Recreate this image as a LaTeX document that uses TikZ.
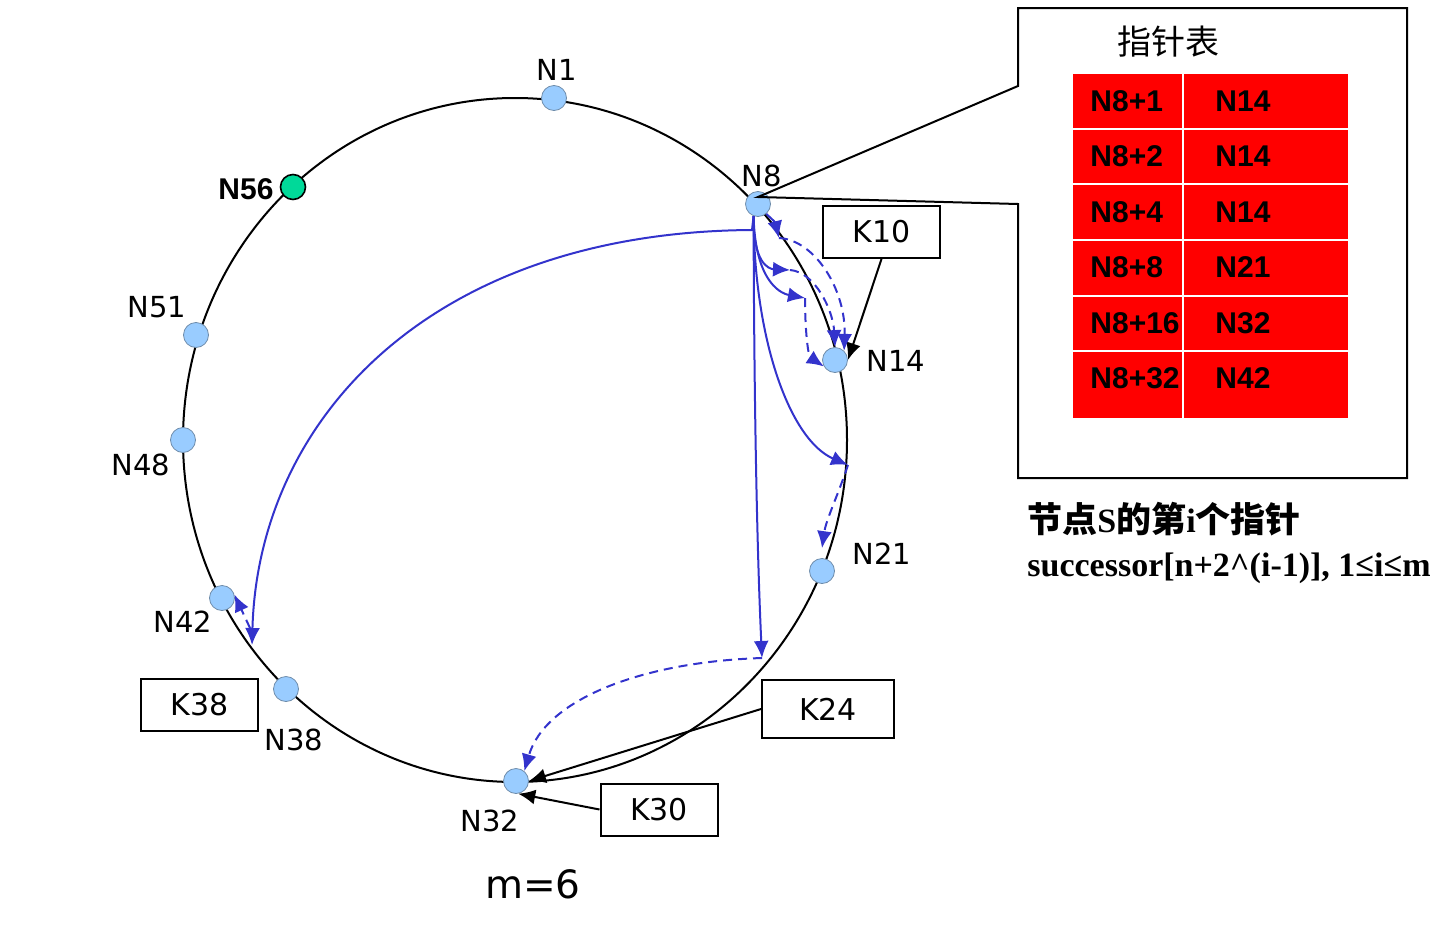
\documentclass[tikz,border=0pt]{standalone}
\usepackage{fontspec}
\setmainfont{DejaVu Sans}
\newfontfamily\tabfont{Liberation Sans}
\newfontfamily\rulefont{Liberation Serif}
\newfontfamily\cjkfont{Noto Sans CJK SC}
\usetikzlibrary{arrows.meta}

\definecolor{ptrblue}{RGB}{51,51,204}
\definecolor{nodeblue}{RGB}{153,204,255}
\definecolor{nodeedge}{RGB}{110,140,170}
\definecolor{startgreen}{RGB}{0,217,153}

\newcommand{\rl}[1]{{\rulefont\bfseries\fontsize{17}{20}\selectfont #1}}

\begin{document}
\begin{tikzpicture}[x=0.5pt,y=-0.5pt,
    peer/.style={circle,draw=nodeedge,fill=nodeblue,line width=0.4pt,minimum size=12.5pt,inner sep=0pt},
    lbl/.style={font=\fontsize{14.5}{17}\selectfont,inner sep=0pt},
    kbox/.style={draw,line width=1pt,minimum width=58.5pt,minimum height=26pt,inner sep=0pt,font=\fontsize{15}{18}\selectfont},
    ptr/.style={ptrblue,line width=1pt,-{Latex[length=8.5pt,width=7.5pt]}},
    hop/.style={ptr,dash pattern=on 4.5pt off 3pt},
    key/.style={line width=1pt,-{Latex[length=8.5pt,width=7.5pt]}},
    cell/.style={font=\tabfont\bfseries\fontsize{15}{18}\selectfont,inner sep=0pt,anchor=west}]
  \useasboundingbox (0,0) rectangle (1446,926);

  % the ring
  \draw[line width=1pt] (515,440) ellipse [x radius=166pt, y radius=171pt];

  % peers on the ring
  \node[peer] (N1) at (554,98) {};
  \node[peer] (N8) at (758,204) {};
  \node[peer] (N14) at (835,360) {};
  \node[peer] (N21) at (822,571) {};
  \node[peer] (N32) at (516,781) {};
  \node[peer] (N38) at (286,689) {};
  \node[peer] (N42) at (222,598) {};
  \node[peer] (N48) at (183,440) {};
  \node[peer] (N51) at (196,335) {};
  \node[peer,draw=black,fill=startgreen,line width=0.8pt] (N56) at (293,187) {};

  \node[lbl] (lN1) at (557,70) {N1};
  \node[lbl] (lN8) at (762,176) {N8};
  \node[lbl] (lN14) at (896,361) {N14};
  \node[lbl] (lN21) at (882,554) {N21};
  \node[lbl] (lN32) at (490,821) {N32};
  \node[lbl] (lN38) at (294,740) {N38};
  \node[lbl] (lN42) at (183,622) {N42};
  \node[lbl] (lN48) at (141,465) {N48};
  \node[lbl] (lN51) at (157,307) {N51};
  \node[lbl,font=\tabfont\bfseries\fontsize{15}{18}\selectfont] (lN56) at (246,189) {N56};

  % keys
  \node[kbox] (K10) at (881.5,232) {K10};
  \node[kbox,minimum width=66pt,minimum height=29pt] (K24) at (828,709) {K24};
  \node[kbox] (K30) at (659,809.5) {K30};
  \node[kbox] (K38) at (199.5,705) {K38};

  \draw[key] (K10.south) -- (N14.east);
  \draw[key] (K24.west) -- (N32.east);
  \draw[key] (K30.west) -- (N32.-80);

  % fingers of N8
  \coordinate (stem) at (752,230);
  \coordinate (f1) at (779,238);
  \coordinate (f2) at (790,270);
  \coordinate (f4) at (805,298);
  \coordinate (f8) at (848,465);
  \coordinate (f16) at (762,658);
  \coordinate (f32) at (252,645);
  \coordinate (r32) at (250,628);

  \draw[ptr] (N8.-50) .. controls (775,222) .. (f1);
  \draw[ptr] (N8.-110) .. controls (753,262) and (768,269) .. (f2);
  \draw[ptr] (N8.-110) .. controls (755,278) and (778,293) .. (f4);
  \draw[ptr] (N8.-110) .. controls (754,340) and (790,440) .. (f8);
  \draw[ptr] (N8.-110) .. controls (754,400) and (757,550) .. (f16);
  \draw[ptr] (N8.-110) -- (stem) .. controls (430,232) and (258,420) .. (f32);

  % hops to the successor
  \draw[hop] (f1) .. controls (815,240) and (846,290) .. (N14.45);
  \draw[hop] (f2) .. controls (815,272) and (833,310) .. (N14.north);
  \draw[hop] (f4) .. controls (805,330) and (808,356) .. (N14.-150);
  \draw[hop] (f8) .. controls (838,495) and (826,520) .. ([yshift=5pt]N21.north);
  \draw[hop] (f16) .. controls (640,662) and (545,700) .. (N32.50);
  \draw[hop] (r32) -- (N42.15);

  % finger table
  \coordinate (tail) at (758,197);
  \draw[line width=1pt] (1018,86) -- (1018,8) -- (1407,8) -- (1407,478) -- (1018,478) -- (1018,204) -- (tail) -- cycle;
  \node[font=\cjkfont\fontsize{17}{20}\selectfont] (title) at (1168,42) {指针表};
  \fill[red] (1073,74) rectangle (1348,418);
  \draw[white,line width=1pt] (1183,74) -- (1183,418);
  \foreach \y in {128.8,183.8,240,296,351}
    \draw[white,line width=1pt] (1073,\y) -- (1348,\y);
  \foreach \a/\b [count=\i] in {N8+1/N14,N8+2/N14,N8+4/N14,N8+8/N21,N8+16/N32,N8+32/N42} {
    \node[cell] (s\i) at (1090,{101+(\i-1)*55.5}) {\a};
    \node[cell] (t\i) at (1215,{101+(\i-1)*55.5}) {\b};
  }

  \node[anchor=west,inner sep=0pt] (rule1) at (1027,519) {\cjkfont\bfseries\fontsize{17.5}{21}\selectfont 节点\rl{S}的第\rl{i}个指针};
  \node[anchor=west,inner sep=0pt] (rule2) at (1027,568) {\rl{successor[n+2\textasciicircum(i-1)], 1≤i≤m}};

  \node[font=\fontsize{19.5}{23}\selectfont] (m) at (533,884) {m=6};
\end{tikzpicture}
\end{document}
